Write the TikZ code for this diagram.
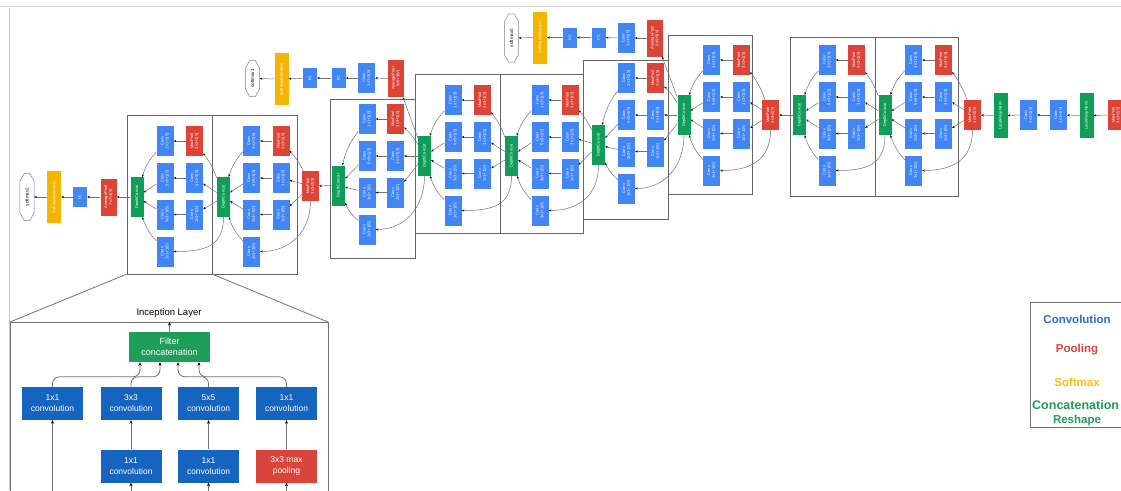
\documentclass[tikz,border=0pt]{standalone}
\usepackage{fontspec}
\setmainfont{Liberation Sans}
\usetikzlibrary{arrows.meta,calc}
\definecolor{gB}{HTML}{4285F4}
\definecolor{gR}{HTML}{DB4437}
\definecolor{gY}{HTML}{F4B400}
\definecolor{gG}{HTML}{0F9D58}
\definecolor{pB}{HTML}{1565C0}
\definecolor{pR}{HTML}{D9453A}
\definecolor{pG}{HTML}{1E9E58}
\definecolor{lB}{HTML}{2D6BD0}
\definecolor{lY}{HTML}{F4C20D}
\newcommand\tx[2]{\rotatebox{90}{\begin{tabular}{@{}c@{}}#1\\#2\end{tabular}}}
\newcommand\tz[1]{\rotatebox{90}{#1}}
\tikzset{
 blk/.style={inner sep=0pt, text=white, font=\fontsize{4}{4.8}\selectfont},
 cv/.style={blk, fill=gB, minimum width=17pt, minimum height=30pt},
 pl/.style={blk, fill=gR, minimum width=17pt, minimum height=30pt},
 dcat/.style={blk, fill=gG, minimum width=13pt, minimum height=40pt},
 lrn/.style={blk, fill=gG, minimum width=14pt, minimum height=45pt},
 fcn/.style={blk, fill=gB, minimum width=14pt, minimum height=20pt},
 smx/.style={blk, fill=gY, minimum width=14pt, minimum height=52pt},
 avg/.style={blk, fill=gR, minimum width=16pt, minimum height=37pt},
 outn/.style={inner sep=0pt, text=black, font=\fontsize{4.5}{5}\selectfont, minimum width=14pt},
 hexl/.style={draw=black!50, fill=white, line width=0.5pt},
 e/.style={draw=black!55, line width=0.5pt, -{Stealth[length=2.6pt,width=2.2pt,black]}},
 mbox/.style={draw=black!60, line width=0.8pt},
 pbox/.style={inner sep=0pt, text=white, fill=pB, minimum width=61pt, minimum height=33pt, align=center, font=\fontsize{8.5}{11}\selectfont},
 pe/.style={draw=black!55, line width=0.8pt, -{Stealth[length=3.5pt,width=3pt,black]}},
 leg/.style={font=\fontsize{11.5}{13}\selectfont\bfseries, inner sep=0pt}
}
% module: name, boxL, boxR, boxT, dcx, dcy, ax, bx, r1
\newcommand\incep[9]{%
 \draw[mbox] (#2,#4) rectangle (#3,#4+159);
 \node[dcat] (#1dc) at (#5,#6) {\tz{DepthConcat}};
 \node[cv] (#1a1) at (#7,#9) {\tx{Conv}{1x1+1(S)}};
 \node[cv] (#1a2) at (#7,#9+37) {\tx{Conv}{5x5+1(S)}};
 \node[cv] (#1a3) at (#7,#9+73.5) {\tx{Conv}{3x3+1(S)}};
 \node[cv] (#1a4) at (#7,#9+110.5) {\tx{Conv}{1x1+1(S)}};
 \node[pl] (#1b1) at (#8,#9) {\tx{MaxPool}{3x3+1(S)}};
 \node[cv] (#1b2) at (#8,#9+37) {\tx{Conv}{1x1+1(S)}};
 \node[cv] (#1b3) at (#8,#9+73.5) {\tx{Conv}{1x1+1(S)}};
 \foreach \i in {1,2,3} {\draw[e] (#1b\i) -- (#1a\i);}
 \draw[e] (#1a1) to[bend right=12] (#1dc);
 \draw[e] (#1a2) -- (#1dc);
 \draw[e] (#1a3) -- (#1dc);
 \draw[e] (#1a4) to[bend left=12] (#1dc);
}
\newcommand\feed[2]{%
 \draw[e] (#1) to[bend right=8] (#2b1);
 \draw[e] (#1) -- (#2b2);
 \draw[e] (#1) -- (#2b3);
 \draw[e] (#1.south) .. controls +(0pt,-30pt) and +(30pt,0pt) .. (#2a4.east);
}
\newcommand\hexa[1]{%
 \draw[hexl] ([xshift=4.5pt]#1.north west) -- ([xshift=-4.5pt]#1.north east) -- ([yshift=-8pt]#1.north east) -- ([yshift=8pt]#1.south east) -- ([xshift=-4.5pt]#1.south east) -- ([xshift=4.5pt]#1.south west) -- ([yshift=8pt]#1.south west) -- ([yshift=-8pt]#1.north west) -- cycle;
}
\begin{document}
\begin{tikzpicture}[x=1pt,y=-1pt]
\useasboundingbox (0,0) rectangle (1121,490);
\clip (0,0) rectangle (1121,490);
\fill[white] (0,0) rectangle (1121,490);
\draw[black!15, line width=1.5pt] (0,6.5) -- (1121,6.5);
\draw[black!20, line width=0.6pt] (9.5,8) -- (9.5,490);

% stem
\node[pl] (mpA) at (1116,115) {\tx{MaxPool}{3x3+2(S)}};
\node[lrn] (lrnA) at (1086.5,115.5) {\tz{LocalRespNorm}};
\node[cv] (convV) at (1058.5,115) {\tx{Conv}{1x1+1(V)}};
\node[cv] (convS) at (1028.5,115) {\tx{Conv}{3x3+1(S)}};
\node[lrn] (lrnB) at (1000.5,115.5) {\tz{LocalRespNorm}};
\node[pl] (mp3) at (972.5,115) {\tx{MaxPool}{3x3+2(S)}};
\draw[e] (mpA) -- (lrnA);
\draw[e] (lrnA) -- (convV);
\draw[e] (convV) -- (convS);
\draw[e] (convS) -- (lrnB);
\draw[e] (lrnB) -- (mp3);

% inception modules
\incep{ta}{875}{958}{37}{885}{115}{913.5}{943.5}{60}
\incep{tb}{790}{875}{37}{799.5}{115}{827}{856.5}{60}
\node[pl] (mp4) at (770.5,115) {\tx{MaxPool}{3x3+2(S)}};
\incep{fa}{668}{752}{35}{684}{115}{711.5}{741.5}{60}
\incep{fb}{583}{668}{60}{598.5}{145}{626.5}{655.5}{78}
\incep{fc}{500}{583}{74}{511.5}{156}{540}{570}{100}
\incep{fd}{415}{500}{74}{424.5}{156}{453}{482.5}{100}
\incep{fe}{330}{415}{99}{338.5}{185.5}{367}{395.5}{119}
\node[pl] (mp5) at (310.5,186) {\tx{MaxPool}{3x3+2(S)}};
\incep{va}{212}{297}{115}{223.5}{197}{251.5}{281}{141}
\incep{vb}{127}{212}{115}{137}{197}{165}{194.5}{141}

\feed{mp3}{ta}
\feed{tadc}{tb}
\draw[e] (tbdc) -- (mp4);
\feed{mp4}{fa}
\feed{fadc}{fb}
\feed{fbdc}{fc}
\feed{fcdc}{fd}
\feed{fddc}{fe}
\draw[e] (fedc) -- (mp5);
\feed{mp5}{va}
\feed{vadc}{vb}

% main head
\node[avg] (avg2) at (108.5,197) {\tx{AveragePool}{7x7+1(V)}};
\node[fcn] (fc2) at (80,197) {\tz{FC}};
\node[smx] (sm2) at (54,197) {\tz{SoftmaxActivation}};
\node[outn, minimum height=47pt] (out2) at (27,197) {};
\hexa{out2}
\node[outn] at (out2) {\tz{softmax2}};
\draw[e] (vbdc) -- (avg2);
\draw[e] (avg2) -- (fc2);
\draw[e] (fc2) -- (sm2);
\draw[e] (sm2) -- (out2);

% aux 0
\node[avg] (avg0) at (655,38) {\tx{AveragePool}{5x5+3(V)}};
\node[cv] (conv0) at (626,38) {\tx{Conv}{1x1+1(S)}};
\node[fcn] (fc0a) at (598.5,37.5) {\tz{FC}};
\node[fcn] (fc0b) at (570,37.5) {\tz{FC}};
\node[smx] (sm0) at (540,37.5) {\tz{SoftmaxActivation}};
\node[outn, minimum height=48pt] (out0) at (511.5,38) {};
\hexa{out0}
\node[outn] at (out0) {\tz{softmax0}};
\draw[e] (fadc) -- (avg0);
\draw[e] (avg0) -- (conv0);
\draw[e] (conv0) -- (fc0a);
\draw[e] (fc0a) -- (fc0b);
\draw[e] (fc0b) -- (sm0);
\draw[e] (sm0) -- (out0);

% aux 1
\node[avg] (avg1) at (396,78.5) {\tx{AveragePool}{5x5+3(V)}};
\node[cv] (conv1) at (366.5,78) {\tx{Conv}{1x1+1(S)}};
\node[fcn] (fc1a) at (338.5,78) {\tz{FC}};
\node[fcn] (fc1b) at (310,78) {\tz{FC}};
\node[smx] (sm1) at (281.5,79) {\tz{SoftmaxActivation}};
\node[outn, minimum height=36pt] (out1) at (252.5,78.5) {};
\hexa{out1}
\node[outn] at (out1) {\tz{softmax1}};
\draw[e] (fddc) -- (avg1);
\draw[e] (avg1) -- (conv1);
\draw[e] (conv1) -- (fc1a);
\draw[e] (fc1a) -- (fc1b);
\draw[e] (fc1b) -- (sm1);
\draw[e] (sm1) -- (out1);

% inception layer detail panel
\draw[black!55, line width=0.8pt] (127,274) -- (10,322);
\draw[black!55, line width=0.8pt] (212,274) -- (328,322);
\draw[black!55, line width=1pt] (10,500) -- (10,322) -- (328,322) -- (328,500);
\node[font=\fontsize{9.5}{11}\selectfont, inner sep=0pt] (title) at (169,313) {Inception Layer};
\coordinate (ptop) at (169.5,322);
\node[pbox, fill=pG, minimum width=81pt, minimum height=30pt, font=\fontsize{9}{11.5}\selectfont] (fcat) at (169.5,347) {Filter\\concatenation};
\node[pbox] (p1) at (52.5,403.5) {1x1\\convolution};
\node[pbox] (p2) at (131,403.5) {3x3\\convolution};
\node[pbox] (p3) at (208.5,403.5) {5x5\\convolution};
\node[pbox] (p4) at (286.5,403.5) {1x1\\convolution};
\node[pbox] (q2) at (131,466) {1x1\\convolution};
\node[pbox] (q3) at (208.5,466) {1x1\\convolution};
\node[pbox, fill=pR] (q4) at (286.5,466) {3x3 max\\pooling};
\coordinate (c1) at (52.5,500);
\coordinate (c2) at (131,500);
\coordinate (c3) at (208.5,500);
\coordinate (c4) at (286.5,500);
\draw[pe] (fcat) -- (ptop);
\draw[pe] (q2) -- (p2);
\draw[pe] (q3) -- (p3);
\draw[pe] (q4) -- (p4);
\draw[pe] (c1) -- (p1);
\draw[pe] (c2) -- (q2);
\draw[pe] (c3) -- (q3);
\draw[pe] (c4) -- (q4);
\draw[pe, rounded corners=7pt] (p1.north) -- ++(0,-10) -| ([xshift=-29.5pt]fcat.south);
\draw[pe, rounded corners=7pt] (p2.north) -- ++(0,-10) -| ([xshift=-9.5pt]fcat.south);
\draw[pe, rounded corners=7pt] (p3.north) -- ++(0,-10) -| ([xshift=8.5pt]fcat.south);
\draw[pe, rounded corners=7pt] (p4.north) -- ++(0,-10) -| ([xshift=29.5pt]fcat.south);

% legend
\draw[black!55, line width=0.8pt] (1135,302) -- (1030,302) -- (1030,427) -- (1135,427);
\node[leg, text=lB] (lconv) at (1077,319) {Convolution};
\node[leg, text=gR] (lpool) at (1077,350) {Pooling};
\node[leg, text=lY] (lsoft) at (1077,382) {Softmax};
\node[leg, text=pG, anchor=west, font=\fontsize{12.5}{14}\selectfont\bfseries] (lcat) at (1032,405) {Concatenation};
\node[leg, text=pG] (lres) at (1077,421) {Reshape};
\end{tikzpicture}
\end{document}
